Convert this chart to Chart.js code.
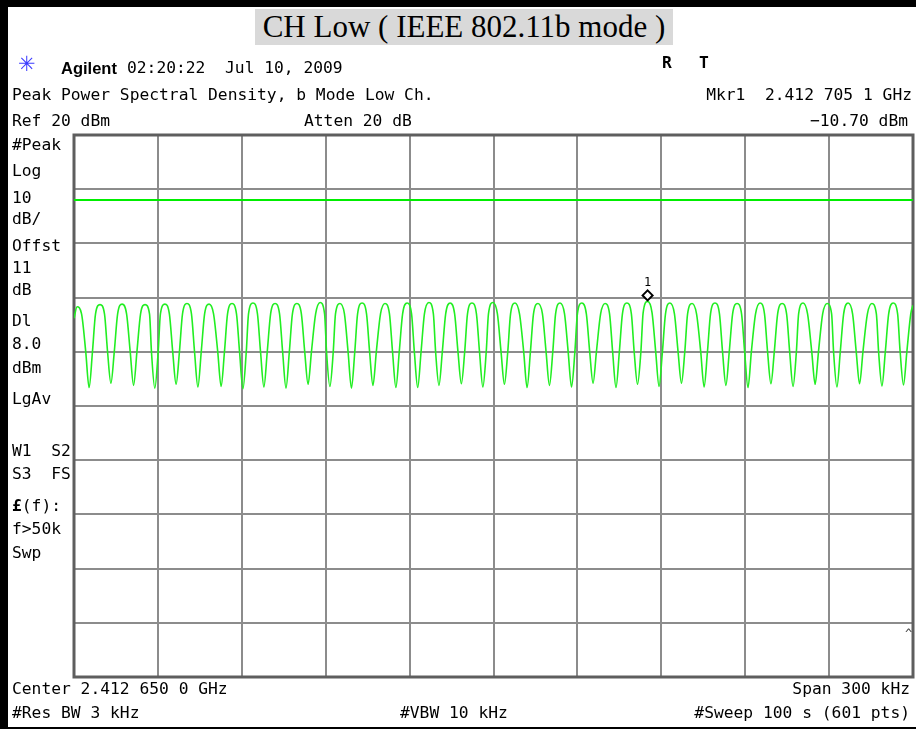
<!DOCTYPE html>
<html>
<head>
<meta charset="utf-8">
<script src="https://cdn.jsdelivr.net/npm/chart.js@4.4.1/dist/chart.umd.min.js"></script>
<style>
html, body { margin: 0; padding: 0; background: #fff; }
#wrap { position: relative; width: 916px; height: 729px; overflow: hidden; }
#c { position: absolute; left: 0; top: 0; }
.bar { position: absolute; background: #000; }
.t { position: absolute; font-family: "DejaVu Sans Mono", monospace; font-size: 16.3px; line-height: 16px; white-space: pre; color: #000; }
.b { font-weight: bold; }
#title { position: absolute; left: 255px; top: 9px; width: 418px; height: 36px; background: #d9d9d9;
         font-family: "Liberation Serif", "Times New Roman", serif; font-size: 31px; line-height: 36px;
         text-align: center; white-space: pre; color: #000; }
</style>
</head>
<body>
<div id="wrap">
  <canvas id="c" width="916" height="729"></canvas>
  <div class="bar" style="left:0;top:0;width:8px;height:729px"></div>
  <div class="bar" style="left:0;top:0;width:916px;height:7px"></div>
  <div class="bar" style="left:0;top:727px;width:916px;height:2px"></div>
  <div id="title">CH Low ( IEEE 802.11b mode )</div>

  <div class="t" style="left:18px;top:56px;font-family:'DejaVu Sans',sans-serif;font-size:21px;color:#3b3bff">✳</div>
  <div class="t" style="left:61px;top:60px;font-family:'Liberation Sans',Arial,sans-serif;font-weight:bold;font-size:16.5px">Agilent</div>
  <div class="t" style="left:127px;top:60px">02:20:22  Jul 10, 2009</div>
  <div class="t b" style="left:662px;top:55px">R</div>
  <div class="t b" style="left:699px;top:55px">T</div>

  <div class="t" style="left:12px;top:87px">Peak Power Spectral Density, b Mode Low Ch.</div>
  <div class="t" style="right:4px;top:87px">Mkr1  2.412 705 1 GHz</div>
  <div class="t" style="left:12px;top:113px">Ref 20 dBm</div>
  <div class="t" style="left:304px;top:113px">Atten 20 dB</div>
  <div class="t" style="right:8px;top:113px">−10.70 dBm</div>

  <div class="t" style="left:12px;top:137px">#Peak</div>
  <div class="t" style="left:12px;top:163px">Log</div>
  <div class="t" style="left:12px;top:190px">10</div>
  <div class="t" style="left:12px;top:211px">dB/</div>
  <div class="t" style="left:12px;top:238px">Offst</div>
  <div class="t" style="left:12px;top:260px">11</div>
  <div class="t" style="left:12px;top:282px">dB</div>
  <div class="t" style="left:12px;top:313px">Dl</div>
  <div class="t" style="left:12px;top:336px">8.0</div>
  <div class="t" style="left:12px;top:360px">dBm</div>
  <div class="t" style="left:12px;top:391px">LgAv</div>
  <div class="t" style="left:12px;top:443px">W1  S2</div>
  <div class="t" style="left:12px;top:466px">S3  FS</div>
  <div class="t" style="left:12px;top:498px"><b>£</b>(f):</div>
  <div class="t" style="left:12px;top:521px">f&gt;50k</div>
  <div class="t" style="left:12px;top:545px">Swp</div>
  <div class="t" style="left:905px;top:626px;font-size:12px;color:#444">^</div>

  <div class="t" style="left:12px;top:681px">Center 2.412 650 0 GHz</div>
  <div class="t" style="right:6px;top:681px">Span 300 kHz</div>
  <div class="t" style="left:12px;top:705px">#Res BW 3 kHz</div>
  <div class="t" style="left:400px;top:705px">#VBW 10 kHz</div>
  <div class="t" style="right:6px;top:705px">#Sweep 100 s (601 pts)</div>
</div>
<script>
// frequency axis in kHz from the span start (center 2.412 650 0 GHz, span 300 kHz)
const SPAN_START = 0;
const SPAN_END = 300;
const FREQ_TICKS = [0, 30, 60, 90, 120, 150, 180, 210, 240, 270, 300];

// level axis: ref 20 dBm, 10 dB/div
const REF_DBM = 20;
const BOTTOM_DBM = -80;
const DISPLAY_LINE_DBM = 8.0;

// marker 1
const MARKER_KHZ = 205.1;
const MARKER_DBM = -10.7;

// trace, one ripple per line:
// shoulder, -20 dBm crossing, notch, -20 dBm crossing, shoulder, peak
const traceKHz = [
    0.0, 1.1,
    2.7, 4.2, 5.4, 6.6, 7.7, 9.3,
    10.9, 12.0, 13.2, 14.4, 15.6, 17.2,
    18.8, 20.1, 21.3, 22.5, 23.8, 25.4,
    27.0, 27.7, 28.9, 30.1, 30.9, 32.5,
    34.1, 35.3, 36.5, 37.7, 38.8, 40.4,
    42.0, 43.1, 44.3, 45.5, 46.7, 48.3,
    49.9, 51.4, 52.6, 53.8, 54.9, 56.5,
    58.1, 59.2, 60.4, 61.6, 62.4, 64.0,
    65.6, 66.7, 67.9, 69.1, 70.3, 71.9,
    73.5, 74.6, 75.8, 77.0, 78.1, 79.7,
    81.3, 82.5, 83.7, 84.9, 86.4, 88.0,
    89.6, 90.3, 91.5, 92.7, 93.5, 95.1,
    96.7, 98.0, 99.2, 100.4, 101.4, 103.0,
    104.6, 105.7, 106.9, 108.1, 109.6, 111.2,
    112.8, 113.9, 115.1, 116.3, 117.5, 119.1,
    120.7, 121.7, 122.9, 124.1, 125.3, 126.9,
    128.5, 129.3, 130.5, 131.7, 132.9, 134.5,
    136.1, 137.3, 138.5, 139.7, 140.7, 142.3,
    143.9, 145.0, 146.2, 147.4, 148.2, 149.8,
    151.4, 152.7, 153.9, 155.1, 156.1, 157.7,
    159.3, 160.8, 162.0, 163.2, 164.3, 165.9,
    167.5, 168.8, 170.0, 171.2, 172.2, 173.8,
    175.4, 176.7, 177.9, 179.1, 180.0, 181.6,
    183.2, 184.4, 185.6, 186.8, 188.3, 189.9,
    191.5, 192.6, 193.8, 195.0, 196.1, 197.7,
    199.3, 200.3, 201.5, 202.7, 203.5, 205.1,
    206.7, 208.0, 209.2, 210.4, 211.5, 213.1,
    214.7, 216.0, 217.2, 218.4, 219.4, 221.0,
    222.6, 224.1, 225.3, 226.5, 227.6, 229.2,
    230.8, 231.9, 233.1, 234.3, 235.5, 237.1,
    238.7, 239.8, 241.0, 242.2, 243.7, 245.3,
    246.9, 248.0, 249.2, 250.4, 251.6, 253.2,
    254.8, 255.9, 257.1, 258.3, 259.1, 260.7,
    262.3, 263.8, 265.0, 266.2, 267.7, 269.3,
    270.9, 271.6, 272.8, 274.0, 275.2, 276.8,
    278.4, 279.7, 280.9, 282.1, 283.7, 285.3,
    286.9, 287.7, 288.9, 290.1, 291.3, 292.9,
    294.5, 295.4, 296.6, 297.8, 299.2, 300.0
];
const traceDbm = [
    -13.8, -11.7,
    -13.0, -20, -26.6, -20, -13.0, -11.3,
    -13.0, -20, -25.8, -20, -13.0, -11.2,
    -13.0, -20, -26.2, -20, -13.0, -11.3,
    -13.0, -20, -26.7, -20, -13.0, -11.2,
    -13.0, -20, -26.0, -20, -13.0, -11.1,
    -13.0, -20, -26.5, -20, -13.0, -11.2,
    -13.0, -20, -26.4, -20, -13.0, -11.1,
    -13.0, -20, -26.8, -20, -13.0, -11.0,
    -13.0, -20, -26.5, -20, -13.0, -11.1,
    -13.0, -20, -26.7, -20, -13.0, -11.1,
    -13.0, -20, -26.0, -20, -13.0, -10.9,
    -13.0, -20, -26.4, -20, -13.0, -11.1,
    -13.0, -20, -26.7, -20, -13.0, -11.0,
    -13.0, -20, -26.2, -20, -13.0, -11.1,
    -13.0, -20, -26.6, -20, -13.0, -11.0,
    -13.0, -20, -26.6, -20, -13.0, -10.9,
    -13.0, -20, -26.2, -20, -13.0, -11.0,
    -13.0, -20, -25.9, -20, -13.0, -11.0,
    -13.0, -20, -26.5, -20, -13.0, -10.9,
    -13.0, -20, -26.0, -20, -13.0, -11.0,
    -13.0, -20, -26.6, -20, -13.0, -11.1,
    -13.0, -20, -26.2, -20, -13.0, -11.0,
    -13.0, -20, -26.5, -20, -13.0, -11.0,
    -13.0, -20, -25.8, -20, -13.0, -11.1,
    -13.0, -20, -26.6, -20, -13.0, -11.0,
    -13.0, -20, -26.0, -20, -12.8, -10.7,
    -12.8, -20, -26.4, -20, -13.0, -11.0,
    -13.0, -20, -25.8, -20, -13.0, -11.1,
    -13.0, -20, -26.5, -20, -13.0, -11.0,
    -13.0, -20, -26.2, -20, -13.0, -11.1,
    -13.0, -20, -26.6, -20, -13.0, -11.0,
    -13.0, -20, -25.9, -20, -13.0, -11.1,
    -13.0, -20, -26.4, -20, -13.0, -11.0,
    -13.0, -20, -26.0, -20, -13.0, -11.1,
    -13.0, -20, -26.5, -20, -13.0, -11.0,
    -13.0, -20, -25.9, -20, -13.0, -11.1,
    -13.0, -20, -26.3, -20, -13.0, -11.0,
    -13.0, -20, -26.1, -20, -13.0, -11.4
];

const TRACE_GREEN = '#22ee22';
const GRID_GRAY = '#8c8c8c';

// thick frame round the graticule + marker diamond
const screenDecor = {
    id: 'screenDecor',
    beforeDatasetsDraw(chart) {
        const { ctx, chartArea: a } = chart;
        ctx.save();
        ctx.strokeStyle = '#5e5e5e';
        ctx.lineWidth = 3;
        ctx.strokeRect(a.left, a.top, a.right - a.left, a.bottom - a.top);
        ctx.restore();
    },
    afterDatasetsDraw(chart) {
        const { ctx, scales } = chart;
        const px = scales.x.getPixelForValue(MARKER_KHZ);
        const py = scales.y.getPixelForValue(MARKER_DBM) - 6;
        ctx.save();
        ctx.beginPath();
        ctx.moveTo(px, py - 5);
        ctx.lineTo(px + 5, py);
        ctx.lineTo(px, py + 5);
        ctx.lineTo(px - 5, py);
        ctx.closePath();
        ctx.fillStyle = '#fff';
        ctx.fill();
        ctx.strokeStyle = '#000';
        ctx.lineWidth = 2;
        ctx.stroke();
        ctx.fillStyle = '#000';
        ctx.font = '12px "DejaVu Sans Mono", monospace';
        ctx.textAlign = 'center';
        ctx.textBaseline = 'alphabetic';
        ctx.fillText('1', px, py - 9);
        ctx.restore();
    }
};

new Chart(document.getElementById('c'), {
    type: 'line',
    data: {
        datasets: [
            {
                data: traceKHz.map((x, i) => ({ x, y: traceDbm[i] })),
                borderColor: TRACE_GREEN,
                borderWidth: 1.6,
                pointRadius: 0,
                cubicInterpolationMode: 'monotone'
            },
            {
                data: [{ x: SPAN_START, y: DISPLAY_LINE_DBM }, { x: SPAN_END, y: DISPLAY_LINE_DBM }],
                borderColor: '#00ee00',
                borderWidth: 2,
                pointRadius: 0
            }
        ]
    },
    options: {
        responsive: false,
        animation: false,
        devicePixelRatio: 1,
        layout: { padding: { left: 74, top: 135, right: 3, bottom: 52 } },
        plugins: { legend: { display: false }, tooltip: { enabled: false } },
        scales: {
            x: {
                type: 'linear',
                min: SPAN_START,
                max: SPAN_END,
                afterBuildTicks: (s) => { s.ticks = FREQ_TICKS.map(v => ({ value: v })); },
                ticks: { display: false },
                grid: { color: GRID_GRAY, lineWidth: 2, drawTicks: false },
                border: { display: false }
            },
            y: {
                type: 'linear',
                min: BOTTOM_DBM,
                max: REF_DBM,
                ticks: { display: false, stepSize: 10 },
                grid: { color: GRID_GRAY, lineWidth: 2, drawTicks: false },
                border: { display: false }
            }
        }
    },
    plugins: [screenDecor]
});
</script>
</body>
</html>
